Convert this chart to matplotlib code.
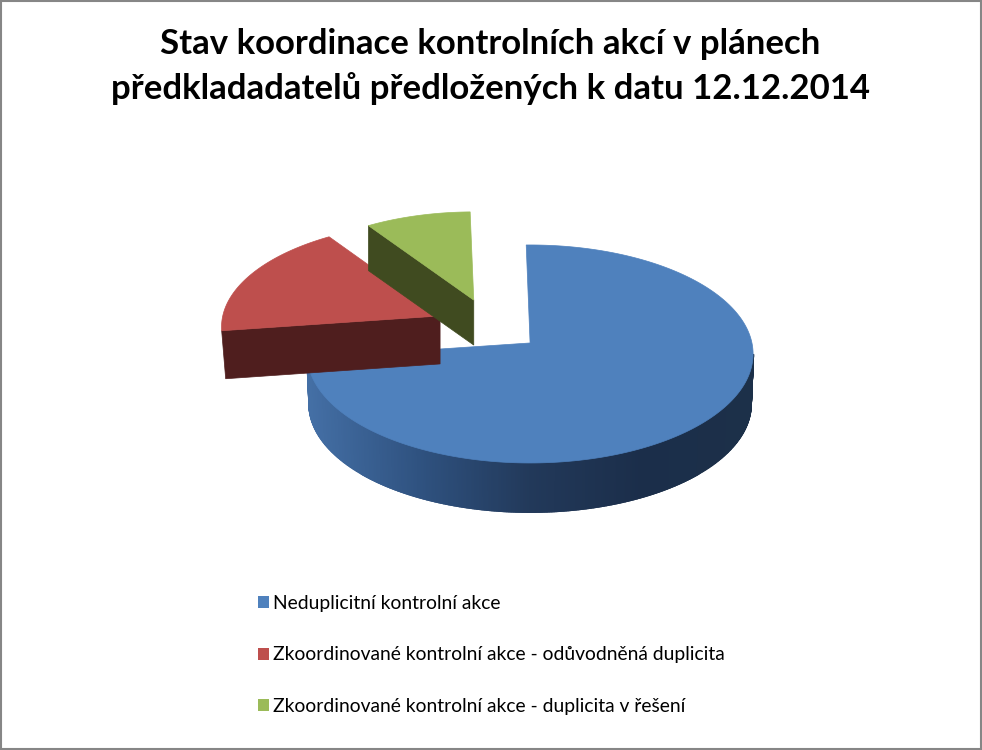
# Stav koordinace - exploded 3D style pie drawn by hand on a pixel sized axes
import numpy as np
import matplotlib
matplotlib.use('Agg')
import matplotlib.pyplot as plt
from matplotlib.colors import LinearSegmentedColormap
from matplotlib.patches import Patch, Polygon

title = 'Stav koordinace kontrolních akcí v plánech\npředkladadatelů předložených k datu 12.12.2014'
labels = ['Neduplicitní kontrolní akce',
          'Zkoordinované kontrolní akce - odůvodněná duplicita',
          'Zkoordinované kontrolní akce - duplicita v řešení']
values = [74.7, 17.1, 8.2]  # percent

top_colors = ['#4f81bd', '#be4f4d', '#9bbb59']
wall_colors = ['#1f3554', '#4f1e1e', '#404b20']
explode_x = [0.26, 0.245, 0.235]
explode_y = [0.253, 0.154, 0.228]
scale_x = [1, 0.98, 0.93]  # far slices look smaller
scale_y = [1, 0.96, 0.91]
depths = [50, 48, 45]
wall_inset = [0, 4, 0]

# pie geometry in pixels
cx, cy = 488, 335
rx, ry = 223, 109
apex_up = 11  # apex sits above the ellipse centre because of the perspective
start = -1

fig = plt.figure(figsize=(9.82, 7.5), dpi=100, facecolor='white')
ax = fig.add_axes([0, 0, 1, 1])
ax.set_xlim(0, 982)
ax.set_ylim(750, 0)
ax.axis('off')

# angles go clockwise from the top
edges = start + np.cumsum([0] + values) * 360 / sum(values)


def rim(ox, oy, a0, a1, sx=1.0, sy=1.0, n=400):
    t = np.radians(np.linspace(a0, a1, n))
    return np.column_stack([ox + sx * rx * np.sin(t), oy - sy * ry * np.cos(t)])


side_cmap = LinearSegmentedColormap.from_list(
    'side', ['#446fa5', '#2f5280', '#22395a', '#1b2e4a', '#1c3049'])

# far slices first, so the nearer ones cover them
for i in [2, 1, 0]:
    a0, a1 = edges[i], edges[i + 1]
    mid = np.radians((a0 + a1) / 2)
    ox = cx + explode_x[i] * rx * np.sin(mid)
    oy = cy - explode_y[i] * ry * np.cos(mid)
    d = depths[i]
    apex = np.array([ox, oy - apex_up])
    top = rim(ox, oy, a0, a1, scale_x[i], scale_y[i])

    if i == 0:
        # outer wall, split in strips for the shading
        up = rim(ox, oy, 90, a1)
        low = rim(ox, oy + d, 90, a1, 0.99, 0.99)
        for k in range(len(up) - 1):
            frac = (ox + rx - up[k, 0]) / (2 * rx)
            col = side_cmap(1 - frac)
            ax.add_patch(Polygon([up[k], up[k + 1], low[k + 1], low[k]],
                                 closed=True, fc=col, ec=col, lw=1.5, zorder=i + 1))
    else:
        # cut wall from the apex to the left end of the slice
        p0 = top[0]
        ax.add_patch(Polygon([apex, p0, p0 + [wall_inset[i], d], apex + [0, d]], closed=True,
                             fc=wall_colors[i], ec=wall_colors[i], lw=0.5, zorder=i + 1))

    ax.add_patch(Polygon(np.vstack([apex, top]), closed=True, fc=top_colors[i],
                         ec=top_colors[i], lw=0.5, zorder=i + 1.5))

plt.rcParams['font.family'] = ['Lato', 'DejaVu Sans']

fig.text(0.4995, 0.9115, title, ha='center', va='center', fontsize=25,
         fontweight='bold', color='black', linespacing=1.42)

handles = [Patch(fc=c, ec='none') for c in top_colors]
ax.legend(handles, labels, loc='upper left', bbox_to_anchor=(258 / 982, 1 - 595 / 750),
          frameon=False, fontsize=13.85, labelspacing=1.79, handlelength=0.57,
          handleheight=0.57, handletextpad=0.2, borderpad=0, borderaxespad=0)

# grey outer border
ax.add_patch(plt.Rectangle((1, 1), 980, 748, fc='none', ec='#868686', lw=1.5, zorder=10))

fig.savefig('out.png', dpi=100, facecolor='white')
